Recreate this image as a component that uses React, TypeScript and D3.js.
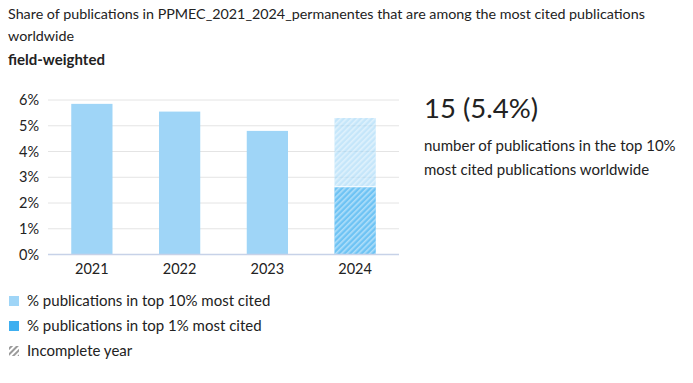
import React from "react";
import * as d3 from "d3";

const years = ["2021", "2022", "2023", "2024"];
const top10 = [5.85, 5.55, 4.8, 5.3];
const top1 = [0, 0, 0, 2.65];
const incomplete = [false, false, false, true];
const yTicks = [0, 1, 2, 3, 4, 5, 6];
const titleLines = [
  "Share of publications in PPMEC_2021_2024_permanentes that are among the most cited publications",
  "worldwide",
];
const subtitle = "field-weighted";
const bigValue = "15 (5.4%)";
const bigLabel = ["number of publications in the top 10%", "most cited publications worldwide"];
const legendItems = [
  "% publications in top 10% most cited",
  "% publications in top 1% most cited",
  "Incomplete year",
];

const LIGHT = "#9fd5f7";
const DARK = "#3eaff0";
const FONT = "Lato, 'Open Sans', sans-serif";

export default function App() {
  const x = d3.scaleBand<string>().domain(years).range([48, 399]).paddingInner(0.53).paddingOuter(0.265);
  const y = d3.scaleLinear().domain([0, 6]).range([254.5, 100]);
  const bw = x.bandwidth();

  return (
    <svg
      width={693}
      height={383}
      style={{ position: "absolute", left: 0, top: 0, background: "#fff" }}
      fontFamily={FONT}
    >
      <defs>
        <pattern id="hatch" patternUnits="userSpaceOnUse" width={4} height={4} patternTransform="rotate(45)">
          <rect x={0} y={0} width={1.6} height={4} fill="#fff" opacity={0.45} />
        </pattern>
        <pattern id="hatchGray" patternUnits="userSpaceOnUse" width={4} height={4} patternTransform="rotate(45)">
          <rect x={0} y={0} width={2} height={4} fill="#9a9a9a" />
        </pattern>
      </defs>

      {titleLines.map((t, i) => (
        <text key={i} x={8} y={19 + i * 22} fontSize={14.3} fill="#222">
          {t}
        </text>
      ))}
      <text x={8} y={65} fontSize={15} fontWeight="bold" fill="#222">
        {subtitle}
      </text>

      {yTicks.map((t) => (
        <g key={t}>
          {t > 0 && <line x1={48} x2={399} y1={y(t)} y2={y(t)} stroke="#e4e4e4" strokeWidth={1} />}
          <text x={39} y={y(t) + 5} fontSize={14.5} textAnchor="end" fill="#222">
            {t}%
          </text>
        </g>
      ))}

      {years.map((yr, i) => {
        const x0 = x(yr)!;
        const inc = incomplete[i];
        return (
          <g key={yr}>
            <rect
              x={x0}
              y={y(top10[i])}
              width={bw}
              height={y(0) - y(top10[i])}
              fill={LIGHT}
              opacity={inc ? 0.6 : 1}
            />
            {inc && (
              <rect x={x0} y={y(top10[i])} width={bw} height={y(0) - y(top10[i])} fill="url(#hatch)" />
            )}
            {top1[i] > 0 && (
              <g>
                <rect x={x0} y={y(top1[i])} width={bw} height={y(0) - y(top1[i])} fill="#fff" />
                <rect
                  x={x0}
                  y={y(top1[i]) + 1}
                  width={bw}
                  height={y(0) - y(top1[i]) - 1}
                  fill={DARK}
                  opacity={inc ? 0.75 : 1}
                />
                {inc && (
                  <rect
                    x={x0}
                    y={y(top1[i]) + 1}
                    width={bw}
                    height={y(0) - y(top1[i]) - 1}
                    fill="url(#hatch)"
                  />
                )}
              </g>
            )}
            <text x={x0 + bw / 2} y={274} fontSize={14.5} textAnchor="middle" fill="#222">
              {yr}
            </text>
          </g>
        );
      })}

      <line x1={48} x2={399} y1={y(0)} y2={y(0)} stroke="#c7d2e8" strokeWidth={1.5} />

      <text x={424} y={118} fontSize={27.5} fill="#222">
        {bigValue}
      </text>
      {bigLabel.map((t, i) => (
        <text key={i} x={424} y={151 + i * 24} fontSize={15} fill="#222">
          {t}
        </text>
      ))}

      {legendItems.map((t, i) => {
        const cy = 301 + i * 25;
        return (
          <g key={t}>
            <rect
              x={9}
              y={cy - 5}
              width={10}
              height={10}
              fill={i === 0 ? LIGHT : i === 1 ? DARK : "url(#hatchGray)"}
            />
            <text x={27} y={cy + 5} fontSize={15} fill="#222">
              {t}
            </text>
          </g>
        );
      })}
    </svg>
  );
}
